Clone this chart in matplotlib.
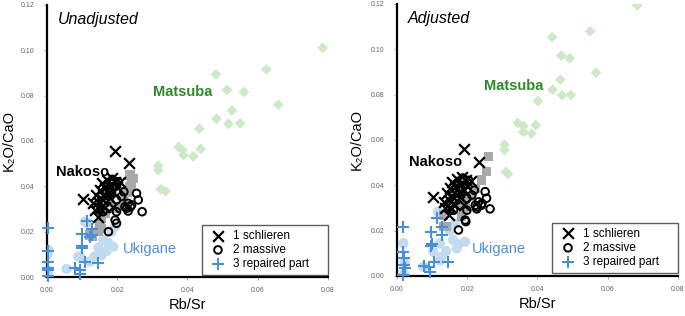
import matplotlib
matplotlib.use('Agg')
import matplotlib.pyplot as plt
import numpy as np

plt.rcParams['font.family'] = ['Liberation Sans', 'DejaVu Sans']

# ---- Unadjusted (left) ----
u_matsuba_x = [0.0785, 0.0625, 0.0481, 0.0513, 0.0561, 0.0659, 0.0527, 0.0483, 0.0517, 0.0550,
               0.0434, 0.0375, 0.0386, 0.0389, 0.0417, 0.0438, 0.0317, 0.0317, 0.0324, 0.0338]
u_matsuba_y = [0.1011, 0.0916, 0.0894, 0.0825, 0.0816, 0.0760, 0.0734, 0.0698, 0.0676, 0.0678,
               0.0654, 0.0573, 0.0560, 0.0538, 0.0532, 0.0565, 0.0491, 0.0471, 0.0387, 0.0379]
u_gray_x = [0.0122, 0.0130, 0.0146, 0.0151, 0.0156, 0.0156, 0.0165, 0.0194, 0.0208, 0.0217,
            0.0228, 0.0236, 0.0241, 0.0236, 0.0245, 0.0160, 0.0175]
u_gray_y = [0.0185, 0.0180, 0.0200, 0.0237, 0.0215, 0.0259, 0.0281, 0.0303, 0.0310, 0.0340,
            0.0375, 0.0400, 0.0413, 0.0450, 0.0435, 0.0300, 0.0330]
u_uki_x = [0.0004, 0.0002, 0.0004, 0.0002, 0.0056, 0.0089, 0.0094, 0.0113, 0.0122, 0.0146,
           0.0151, 0.0156, 0.0170, 0.0189, 0.0160, 0.0184, 0.0194, 0.0108, 0.0135, 0.0175]
u_uki_y = [0.0119, 0.0100, 0.0009, 0.0030, 0.0036, 0.0090, 0.0090, 0.0240, 0.0068, 0.0130,
           0.0112, 0.0097, 0.0115, 0.0134, 0.0163, 0.0200, 0.0222, 0.0244, 0.0090, 0.0150]
u_sch_x = [0.0193, 0.0234, 0.0103, 0.0156, 0.0170, 0.0184, 0.0194, 0.0208, 0.0151, 0.0165,
           0.0179, 0.0198, 0.0141, 0.0160, 0.0175, 0.0189, 0.0132, 0.0146, 0.0160, 0.0179,
           0.0137, 0.0151, 0.0165, 0.0146, 0.0189]
u_sch_y = [0.0557, 0.0503, 0.0343, 0.0413, 0.0428, 0.0435, 0.0420, 0.0420, 0.0384, 0.0391,
           0.0398, 0.0398, 0.0362, 0.0362, 0.0369, 0.0376, 0.0325, 0.0332, 0.0340, 0.0347,
           0.0296, 0.0303, 0.0310, 0.0266, 0.0310]
u_mas_x = [0.0160, 0.0198, 0.0194, 0.0198, 0.0219, 0.0255, 0.0260, 0.0231, 0.0231, 0.0238,
           0.0271, 0.0175, 0.0189, 0.0203, 0.0179, 0.0198, 0.0222, 0.0241, 0.0227, 0.0212,
           0.0186, 0.0195]
u_mas_y = [0.0288, 0.0288, 0.0251, 0.0237, 0.0376, 0.0369, 0.0340, 0.0325, 0.0291, 0.0310,
           0.0288, 0.0200, 0.0420, 0.0420, 0.0391, 0.0340, 0.0310, 0.0318, 0.0303, 0.0355,
           0.0430, 0.0400]
u_rep_x = [0.0002, 0.0002, 0.0002, 0.0002, 0.0002, 0.0002, 0.0113, 0.0099, 0.0127, 0.0127,
           0.0099, 0.0101, 0.0108, 0.0146, 0.0080, 0.0094, 0.0094, 0.0122]
u_rep_y = [0.0215, 0.0113, 0.0068, 0.0038, 0.0030, 0.0005, 0.0248, 0.0190, 0.0185, 0.0210,
           0.0127, 0.0135, 0.0068, 0.0063, 0.0038, 0.0031, 0.0012, 0.0175]

# ---- Adjusted (right) ----
a_matsuba_x = [0.0684, 0.0550, 0.0442, 0.0468, 0.0492, 0.0567, 0.0465, 0.0443, 0.0470, 0.0495,
               0.0401, 0.0344, 0.0360, 0.0360, 0.0383, 0.0395, 0.0306, 0.0306, 0.0310, 0.0316]
a_matsuba_y = [0.1194, 0.1079, 0.1054, 0.0972, 0.0960, 0.0897, 0.0866, 0.0822, 0.0797, 0.0798,
               0.0772, 0.0675, 0.0662, 0.0635, 0.0628, 0.0666, 0.0579, 0.0556, 0.0459, 0.0450]
a_gray_x = [0.0132, 0.0141, 0.0132, 0.0184, 0.0190, 0.0208, 0.0222, 0.0241, 0.0255, 0.0260,
            0.0150, 0.0170, 0.0195]
a_gray_y = [0.0217, 0.0217, 0.0269, 0.0262, 0.0300, 0.0350, 0.0387, 0.0423, 0.0460, 0.0526,
            0.0290, 0.0320, 0.0330]
a_uki_x = [0.0018, 0.0020, 0.0022, 0.0075, 0.0103, 0.0122, 0.0127, 0.0122, 0.0160, 0.0170,
           0.0175, 0.0194, 0.0117, 0.0150, 0.0165, 0.0140]
a_uki_y = [0.0144, 0.0010, 0.0060, 0.0041, 0.0107, 0.0144, 0.0085, 0.0068, 0.0159, 0.0122,
           0.0140, 0.0151, 0.0284, 0.0200, 0.0230, 0.0110]
a_sch_x = [0.0191, 0.0234, 0.0103, 0.0158, 0.0172, 0.0186, 0.0196, 0.0210, 0.0152, 0.0166,
           0.0180, 0.0200, 0.0142, 0.0161, 0.0176, 0.0190, 0.0133, 0.0147, 0.0161, 0.0180,
           0.0138, 0.0152, 0.0166, 0.0147, 0.0190]
a_sch_y = [0.0559, 0.0502, 0.0350, 0.0415, 0.0430, 0.0437, 0.0422, 0.0420, 0.0386, 0.0393,
           0.0400, 0.0398, 0.0364, 0.0364, 0.0371, 0.0378, 0.0327, 0.0334, 0.0342, 0.0349,
           0.0298, 0.0305, 0.0312, 0.0268, 0.0312]
a_mas_x = [0.0161, 0.0199, 0.0194, 0.0196, 0.0220, 0.0251, 0.0255, 0.0232, 0.0227, 0.0240,
           0.0265, 0.0175, 0.0190, 0.0204, 0.0180, 0.0199, 0.0223, 0.0242, 0.0228, 0.0213,
           0.0187, 0.0196]
a_mas_y = [0.0290, 0.0290, 0.0247, 0.0240, 0.0378, 0.0372, 0.0343, 0.0327, 0.0296, 0.0312,
           0.0296, 0.0203, 0.0422, 0.0422, 0.0393, 0.0342, 0.0312, 0.0320, 0.0305, 0.0357,
           0.0432, 0.0402]
a_rep_x = [0.0018, 0.0018, 0.0020, 0.0020, 0.0022, 0.0018, 0.0113, 0.0097, 0.0127, 0.0127,
           0.0097, 0.0106, 0.0146, 0.0078, 0.0092, 0.0094, 0.0099]
a_rep_y = [0.0215, 0.0107, 0.0078, 0.0049, 0.0034, 0.0004, 0.0255, 0.0193, 0.0217, 0.0181,
           0.0134, 0.0063, 0.0063, 0.0045, 0.0040, 0.0017, 0.0140]

panels = [
    ('Unadjusted', u_matsuba_x, u_matsuba_y, u_gray_x, u_gray_y, u_uki_x, u_uki_y,
     u_sch_x, u_sch_y, u_mas_x, u_mas_y, u_rep_x, u_rep_y,
     (0.0387, 0.0816), (0.0100, 0.0463), (0.0293, 0.0124)),
    ('Adjusted', a_matsuba_x, a_matsuba_y, a_gray_x, a_gray_y, a_uki_x, a_uki_y,
     a_sch_x, a_sch_y, a_mas_x, a_mas_y, a_rep_x, a_rep_y,
     (0.0333, 0.0838), (0.0111, 0.0502), (0.0290, 0.0119)),
]

fig = plt.figure(figsize=(6.85, 3.16), dpi=100)
axes = [fig.add_axes([0.0686, 0.1234, 0.410, 0.861]),
        fig.add_axes([0.5796, 0.1266, 0.410, 0.861])]
ylab_x = [-0.112, -0.118]
leg_y = [0.007, 0.011]

blue = '#4a90d9'
for i, (ax, p) in enumerate(zip(axes, panels)):
    (title, mx, my, gx, gy, kx, ky, sx, sy, cx, cy, rx, ry, mpos, npos, upos) = p
    ax.scatter(kx, ky, s=55, marker='o', color='#c3dbef', edgecolors='none', zorder=2)
    ax.scatter(mx, my, s=30, marker='D', color='#cde9c6', edgecolors='none', zorder=2)
    ax.scatter(gx, gy, s=45, marker='s', color='#a9a9a9', edgecolors='none', zorder=2)
    ax.scatter(sx, sy, s=60, marker='x', color='black', linewidths=1.6, zorder=4,
               label='1 schlieren')
    ax.scatter(cx, cy, s=30, marker='o', facecolors='none', edgecolors='black',
               linewidths=1.4, zorder=4, label='2 massive')
    ax.scatter(rx, ry, s=70, marker='+', color=blue, linewidths=1.5, zorder=3,
               clip_on=False, label='3 repaired part')

    ax.text(mpos[0], mpos[1], 'Matsuba', color='#2f8a2a', fontsize=10.5,
            fontweight='bold', ha='center', va='center')
    ax.text(npos[0], npos[1], 'Nakoso', color='black', fontsize=10.5,
            fontweight='bold', ha='center', va='center')
    ax.text(upos[0], upos[1], 'Ukigane', color=blue, fontsize=10.5,
            ha='center', va='center')
    ax.text(0.04, 0.975, title, transform=ax.transAxes, fontsize=11.5,
            fontstyle='italic', ha='left', va='top')

    ax.set_xlim(0, 0.08)
    ax.set_ylim(0, 0.12)
    ax.set_xticks(np.arange(0, 0.081, 0.02))
    ax.set_yticks(np.arange(0, 0.121, 0.02))
    ax.xaxis.set_major_formatter(matplotlib.ticker.FormatStrFormatter('%.2f'))
    ax.yaxis.set_major_formatter(matplotlib.ticker.FormatStrFormatter('%.2f'))
    ax.tick_params(labelsize=5, colors='#999999', labelcolor='#666666', length=2,
                   width=0.6)
    ax.tick_params(axis='y', pad=7)
    ax.tick_params(axis='x', pad=5)
    for s in ['top', 'right']:
        ax.spines[s].set_visible(False)
    ax.spines['left'].set_linewidth(1.6)
    ax.spines['bottom'].set_linewidth(1.6)
    ax.set_xlabel('Rb/Sr', fontsize=10.5, labelpad=3)
    ax.set_ylabel('K\u2082O/CaO', fontsize=10.5)
    ax.yaxis.set_label_coords(ylab_x[i], 0.5)

    leg = ax.legend(loc='lower left', bbox_to_anchor=(0.552, leg_y[i], 0.448, 0.18),
                    mode='expand', borderaxespad=0, fontsize=8.5, frameon=True,
                    fancybox=False, handletextpad=0.3, labelspacing=0.2,
                    handlelength=1.9, borderpad=0.4)
    leg.get_frame().set_edgecolor('#333333')
    leg.get_frame().set_linewidth(1.0)

fig.savefig('out.png', dpi=100)
